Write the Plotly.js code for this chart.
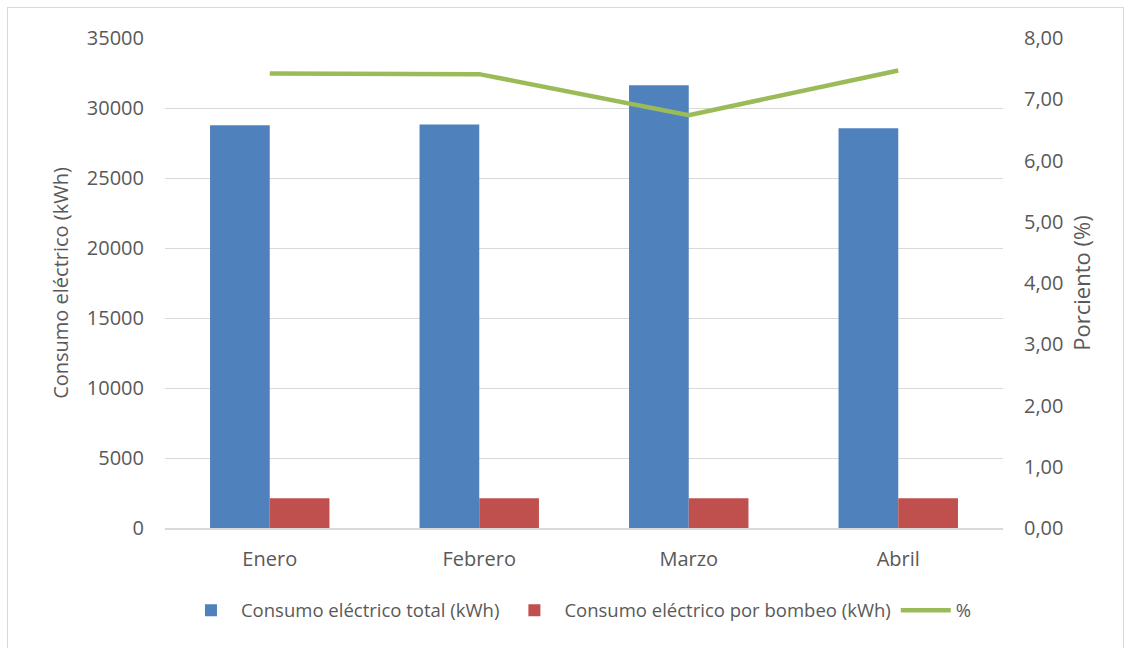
<!DOCTYPE html>
<html><head><meta charset="utf-8">
<script src="https://cdn.plot.ly/plotly-3.0.1.min.js"></script>
<style>
body{margin:0;background:#fff;}
#wrap{position:relative;width:1132px;height:648px;}
#frame{position:absolute;left:7px;top:7px;width:1117px;height:660px;border:1px solid #d9d9d9;box-sizing:border-box;pointer-events:none;}
#chart{position:absolute;left:0;top:0;width:1132px;height:648px;}
</style></head>
<body><div id="wrap"><div id="chart"></div><div id="frame"></div></div>
<script>
const months = ["Enero", "Febrero", "Marzo", "Abril"];
const totalKWh = [28760, 28830, 31620, 28550];
const bombeoKWh = [2130, 2130, 2130, 2130];
const porciento = [7.42, 7.41, 6.74, 7.47];
const leftTicks = [0, 5000, 10000, 15000, 20000, 25000, 30000, 35000];
const rightTicks = [0, 1, 2, 3, 4, 5, 6, 7, 8];

const font = "'Open Sans', sans-serif";
const grey = "#595959";

const data = [
  {type: "bar", name: "Consumo eléctrico total (kWh)", x: months, y: totalKWh,
   marker: {color: "#4f81bd"}, yaxis: "y"},
  {type: "bar", name: "Consumo eléctrico por bombeo (kWh)", x: months, y: bombeoKWh,
   marker: {color: "#c0504d"}, yaxis: "y"},
  {type: "scatter", mode: "lines", name: "%", x: months, y: porciento,
   line: {color: "#9bbb59", width: 4.5}, yaxis: "y2"}
];

const layout = {
  width: 1132, height: 648,
  margin: {l: 165, r: 129, t: 38, b: 120},
  paper_bgcolor: "#fff", plot_bgcolor: "#fff",
  font: {family: font, size: 20, color: grey},
  separators: ",.",
  barmode: "group", bargap: 0.43, bargroupgap: 0,
  showlegend: true,
  legend: {orientation: "h", x: 0.494, xanchor: "center", y: -0.13, yanchor: "top",
           itemwidth: 50, font: {family: font, size: 18.5, color: grey}, traceorder: "normal"},
  xaxis: {showgrid: false, showline: true, linecolor: "#d9d9d9", linewidth: 2,
          ticks: "", ticklabelstandoff: 12, tickfont: {size: 20, color: grey}},
  yaxis: {range: [0, 35000], tickvals: leftTicks, tickformat: "d",
          showgrid: true, gridcolor: "#d9d9d9", gridwidth: 1, zeroline: false,
          ticks: "", ticklabelstandoff: 20, tickfont: {size: 20, color: grey},
          title: {text: "Consumo eléctrico (kWh)", font: {size: 20, color: grey}, standoff: 12}},
  yaxis2: {range: [0, 8], tickvals: rightTicks, tickformat: ".2f", overlaying: "y", side: "right",
           showgrid: false, zeroline: false, ticks: "", ticklabelstandoff: 20,
           tickfont: {size: 20, color: grey},
           title: {text: "Porciento (%)", font: {size: 22, color: grey}, standoff: 12}}
};

Plotly.newPlot("chart", data, layout, {displayModeBar: false, staticPlot: true});
</script></body></html>
